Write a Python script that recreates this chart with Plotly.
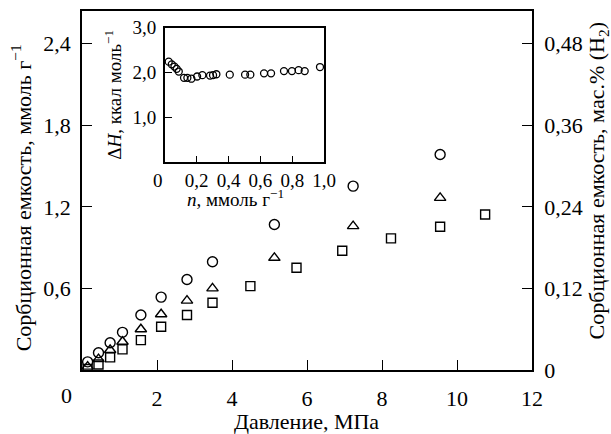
import plotly.graph_objects as go

# Main chart data: pressure (MPa) vs sorption capacity (mmol/g)
p_circ = [0.15, 0.44, 0.75, 1.08, 1.57, 2.11, 2.80, 3.48, 5.13, 7.23, 9.55]
v_circ = [0.06, 0.127, 0.20, 0.277, 0.404, 0.536, 0.666, 0.796, 1.07, 1.352, 1.585]

p_tri = [0.15, 0.44, 0.75, 1.08, 1.57, 2.11, 2.80, 3.48, 5.13, 7.23, 9.55]
v_tri = [0.025, 0.08, 0.147, 0.208, 0.30, 0.41, 0.51, 0.60, 0.825, 1.058, 1.266]

p_sq = [0.15, 0.44, 0.75, 1.08, 1.57, 2.11, 2.80, 3.48, 4.49, 5.72, 6.94, 8.24, 9.55, 10.75]
v_sq = [0.007, 0.04, 0.093, 0.152, 0.22, 0.318, 0.404, 0.495, 0.617, 0.752, 0.877, 0.968, 1.053, 1.144]

# Inset data: n (mmol/g) vs dH (kcal/mol)
n_in = [0.025, 0.044, 0.061, 0.075, 0.088, 0.121, 0.142, 0.167, 0.203, 0.236, 0.284, 0.303,
        0.324, 0.408, 0.504, 0.537, 0.623, 0.667, 0.748, 0.798, 0.840, 0.878, 0.974]
dh_in = [2.24, 2.18, 2.13, 2.08, 2.02, 1.88, 1.88, 1.86, 1.91, 1.94, 1.93, 1.94,
         1.96, 1.95, 1.95, 1.95, 1.98, 1.98, 2.03, 2.03, 2.05, 2.03, 2.12]

main_xticks = [2, 4, 6, 8, 10, 12]
main_xlabels = ["2", "4", "6", "8", "10", "12"]
main_yticks = [0.6, 1.2, 1.8, 2.4]
main_ylabels = ["0,6", "1,2", "1,8", "2,4"]
right_yticks = [0, 0.12, 0.24, 0.36, 0.48]
right_ylabels = ["0", "0,12", "0,24", "0,36", "0,48"]
inset_xticks = [0.2, 0.4, 0.6, 0.8, 1.0]
inset_xlabels = ["0,2", "0,4", "0,6", "0,8", "1,0"]
inset_yticks = [1.0, 2.0, 3.0]
inset_ylabels = ["1,0", "2,0", "3,0"]

FONT = "Liberation Serif"
BLACK = "black"
MAIN_FS = 22
INSET_FS = 19

fig = go.Figure()

fig.add_trace(go.Scatter(x=p_circ, y=v_circ, mode="markers",
                         marker=dict(symbol="circle-open", size=10, line=dict(color=BLACK, width=1.4), color=BLACK),
                         xaxis="x", yaxis="y", showlegend=False))
fig.add_trace(go.Scatter(x=p_tri, y=v_tri, mode="markers",
                         marker=dict(symbol="triangle-up-open", size=10, line=dict(color=BLACK, width=1.4), color=BLACK),
                         xaxis="x", yaxis="y", showlegend=False))
fig.add_trace(go.Scatter(x=p_sq, y=v_sq, mode="markers",
                         marker=dict(symbol="square-open", size=9, line=dict(color=BLACK, width=1.4), color=BLACK),
                         xaxis="x", yaxis="y", showlegend=False))
# invisible trace to anchor right axis (wt.% H2 = mmol/g / 5)
fig.add_trace(go.Scatter(x=[p_sq[-1]], y=[v_sq[-1] / 5], mode="markers",
                         marker=dict(opacity=0), xaxis="x", yaxis="y2",
                         showlegend=False, hoverinfo="skip"))
fig.add_trace(go.Scatter(x=n_in, y=dh_in, mode="markers",
                         marker=dict(symbol="circle-open", size=7, line=dict(color=BLACK, width=1.3), color=BLACK),
                         xaxis="x3", yaxis="y3", showlegend=False))

W, H = 611, 434
L, R, T, B = 82.2, 611 - 532.5, 11, 434 - 370
pw, ph = W - L - R, H - T - B

def px2paper_x(px):
    return (px - L) / pw

def py2paper_y(py):
    return (H - B - py) / ph

YMAX = 2.64

def ax(fs, ticklen, **kw):
    d = dict(showline=True, linecolor=BLACK, linewidth=1.6,
             showgrid=False, zeroline=False, ticks="inside", ticklen=ticklen,
             tickwidth=1.4, tickcolor=BLACK,
             tickfont=dict(family=FONT, size=fs, color=BLACK))
    d.update(kw)
    return d

fig.update_layout(
    width=W, height=H,
    margin=dict(l=L, r=R, t=T, b=B, autoexpand=False),
    paper_bgcolor="white", plot_bgcolor="white",
    xaxis=ax(MAIN_FS, 10, range=[0, 12], tickvals=main_xticks, ticktext=main_xlabels,
             domain=[0, 1], anchor="y", mirror=True, ticklabelstandoff=8),
    yaxis=ax(MAIN_FS, 10, range=[0, YMAX], tickvals=main_yticks, ticktext=main_ylabels,
             domain=[0, 1], anchor="x", ticklabelstandoff=5),
    yaxis2=ax(MAIN_FS, 10, range=[0, YMAX / 5], tickvals=right_yticks, ticktext=right_ylabels,
              overlaying="y", side="right", anchor="x", ticklabelstandoff=6),
    xaxis3=ax(INSET_FS, 7, range=[0, 1.0], tickvals=inset_xticks, ticktext=inset_xlabels,
              domain=[px2paper_x(165), px2paper_x(324.5)], anchor="y3",
              mirror=True, ticklabelstandoff=0),
    yaxis3=ax(INSET_FS, 7, range=[0, 3.0], tickvals=inset_yticks, ticktext=inset_ylabels,
              domain=[py2paper_y(162.3), py2paper_y(27.5)], anchor="x3",
              mirror=True, ticklabelstandoff=3),
)

ann_font = dict(family=FONT, size=MAIN_FS, color=BLACK)
in_font = dict(family=FONT, size=INSET_FS, color=BLACK)
annotations = [
    # corner zero of main x axis
    dict(text="0", x=px2paper_x(67), y=py2paper_y(395), xref="paper", yref="paper",
         showarrow=False, font=ann_font, xanchor="center", yanchor="middle"),
    # corner zero of inset
    dict(text="0", x=px2paper_x(158.3), y=py2paper_y(180), xref="paper", yref="paper",
         showarrow=False, font=in_font, xanchor="center", yanchor="middle"),
    dict(text="Давление, МПа", x=px2paper_x(307), y=py2paper_y(421),
         xref="paper", yref="paper", showarrow=False, font=ann_font,
         xanchor="center", yanchor="middle"),
    dict(text="Сорбционная емкость, ммоль г<sup>−1</sup>", x=px2paper_x(22),
         y=py2paper_y(197.5), xref="paper", yref="paper", showarrow=False,
         font=ann_font, textangle=-90, xanchor="center", yanchor="middle"),
    dict(text="Сорбционная емкость, мас.% (H<sub>2</sub>)", x=px2paper_x(599),
         y=py2paper_y(181), xref="paper", yref="paper", showarrow=False,
         font=ann_font, textangle=-90, xanchor="center", yanchor="middle"),
    dict(text="<i>n</i>, ммоль г<sup>−1</sup>", x=px2paper_x(236), y=py2paper_y(198),
         xref="paper", yref="paper", showarrow=False,
         font=in_font, xanchor="center", yanchor="middle"),
    dict(text="Δ<i>H</i>, ккал моль<sup>−1</sup>", x=px2paper_x(113), y=py2paper_y(95),
         xref="paper", yref="paper", showarrow=False,
         font=in_font, textangle=-90, xanchor="center", yanchor="middle"),
]
fig.update_layout(annotations=annotations)

fig.write_html("out.html")
